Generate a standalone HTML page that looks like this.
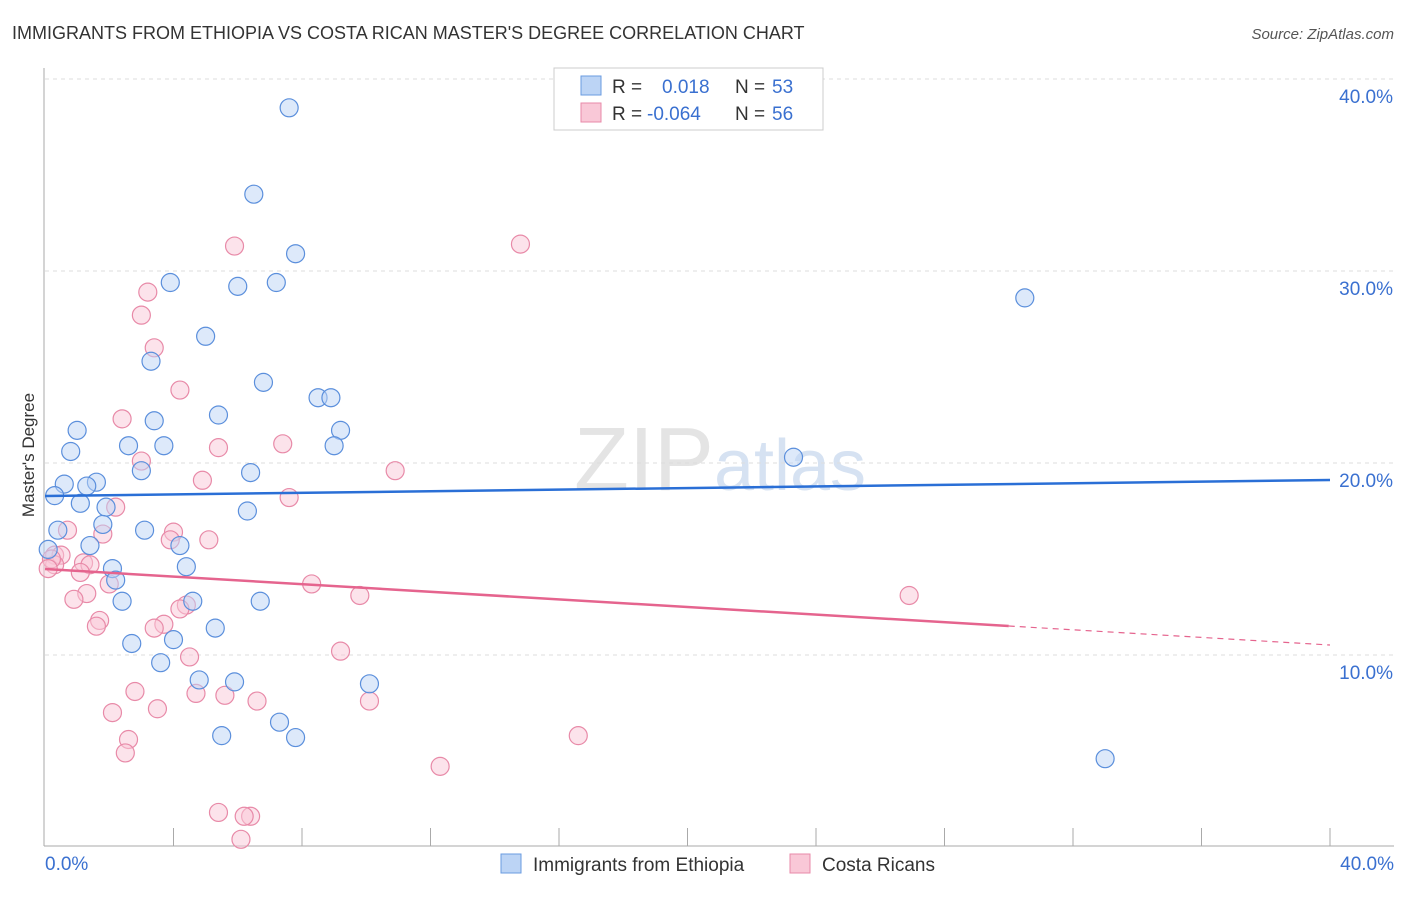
<!DOCTYPE html>
<html><head><meta charset="utf-8"><style>
body{margin:0;background:#fff;font-family:"Liberation Sans",sans-serif}
svg text{font-family:"Liberation Sans",sans-serif}
</style></head><body>
<svg id="chart" width="1406" height="892" xmlns="http://www.w3.org/2000/svg">
<text x="12" y="39" font-size="18" fill="#333">IMMIGRANTS FROM ETHIOPIA VS COSTA RICAN MASTER'S DEGREE CORRELATION CHART</text>
<text x="1394" y="39" font-size="15" fill="#555" text-anchor="end" font-style="italic">Source: ZipAtlas.com</text>
<text x="720" y="490" font-size="90" fill="#e4e4e4" text-anchor="middle" font-family="Liberation Serif">ZIP<tspan fill="#d6e2f2" font-family="Liberation Sans" font-size="72">atlas</tspan></text>
<g id="grid"></g><g id="axes"></g><g id="pts"></g><g id="lines"></g>
<text transform="translate(34,455) rotate(-90)" font-size="17" fill="#333" text-anchor="middle">Master's Degree</text>
<g>
<rect x="554" y="68" width="269" height="62" fill="#fff" stroke="#ccc"/>
<rect x="581" y="76" width="20" height="19" fill="#bcd4f5" stroke="#6a9be0"/>
<rect x="581" y="103" width="20" height="19" fill="#f9c8d7" stroke="#e88aa8"/>
<text x="612" y="93" font-size="19" fill="#333">R = </text><text x="662" y="93" font-size="19" fill="#3a70d0">0.018</text>
<text x="735" y="93" font-size="19" fill="#333">N = </text><text x="772" y="93" font-size="19" fill="#3a70d0">53</text>
<text x="612" y="120" font-size="19" fill="#333">R = </text><text x="647" y="120" font-size="19" fill="#3a70d0">-0.064</text>
<text x="735" y="120" font-size="19" fill="#333">N = </text><text x="772" y="120" font-size="19" fill="#3a70d0">56</text>
</g>
<g>
<rect x="501" y="854" width="20" height="19" fill="#bcd4f5" stroke="#6a9be0"/>
<text x="533" y="871" font-size="19" fill="#333">Immigrants from Ethiopia</text>
<rect x="790" y="854" width="20" height="19" fill="#f9c8d7" stroke="#e88aa8"/>
<text x="822" y="871" font-size="19" fill="#333">Costa Ricans</text>
</g>
</svg>
<script>
const yTicks=[10,20,30,40];
const yTickLabels=["10.0%","20.0%","30.0%","40.0%"];
const xTickLabels=["0.0%","40.0%"];
const blueX=[7.6,6.5,7.8,3.9,6.0,7.2,5.0,3.3,6.8,8.5,8.9,5.4,3.4,9.2,1.0,2.6,3.7,9.0,0.8,3.0,6.4,1.6,0.6,1.3,0.3,1.1,6.3,1.9,1.8,0.4,3.1,1.4,4.2,0.1,4.4,2.1,2.2,2.4,4.6,6.7,5.3,2.7,4.0,3.6,4.8,5.9,10.1,7.3,5.5,7.8,23.3,30.5,33.0];
const blueY=[38.5,34.0,30.9,29.4,29.2,29.4,26.6,25.3,24.2,23.4,23.4,22.5,22.2,21.7,21.7,20.9,20.9,20.9,20.6,19.6,19.5,19.0,18.9,18.8,18.3,17.9,17.5,17.7,16.8,16.5,16.5,15.7,15.7,15.5,14.6,14.5,13.9,12.8,12.8,12.8,11.4,10.6,10.8,9.6,8.7,8.6,8.5,6.5,5.8,5.7,20.3,28.6,4.6];
const pinkX=[14.8,5.9,3.2,3.0,3.4,4.2,2.4,7.4,5.4,3.0,10.9,4.9,7.6,2.2,0.7,1.8,4.0,5.1,3.9,0.3,0.5,1.2,1.4,0.3,1.1,2.0,8.3,9.8,26.9,1.3,0.9,4.4,4.2,1.7,3.7,3.4,1.6,4.5,9.2,2.8,4.7,5.6,6.6,10.1,2.1,3.5,2.6,16.6,2.5,12.3,5.4,6.4,6.2,6.1,0.2,0.1];
const pinkY=[31.4,31.3,28.9,27.7,26.0,23.8,22.3,21.0,20.8,20.1,19.6,19.1,18.2,17.7,16.5,16.3,16.4,16.0,16.0,15.2,15.2,14.8,14.7,14.7,14.3,13.7,13.7,13.1,13.1,13.2,12.9,12.6,12.4,11.8,11.6,11.4,11.5,9.9,10.2,8.1,8.0,7.9,7.6,7.6,7.0,7.2,5.6,5.8,4.9,4.2,1.8,1.6,1.6,0.4,15.0,14.5];
const blueFit=[18.28,0.0208];
const pinkFit=[14.48,-0.099];
const X0=45,X1=1330,Y0=847,PPY=19.2;
const sx=v=>X0+(X1-X0)*v/40, sy=v=>Y0-PPY*v;
const NS="http://www.w3.org/2000/svg";
function mk(tag,attrs,parent){const e=document.createElementNS(NS,tag);for(const k in attrs)e.setAttribute(k,attrs[k]);document.getElementById(parent).appendChild(e);return e;}
yTicks.forEach((t,i)=>{
 const g=mk('line',{x1:45,x2:1394,y1:sy(t),y2:sy(t),stroke:'#ddd','stroke-dasharray':'4,4'},'grid');
 
 
 const tx=mk('text',{x:1393,y:sy(t)+24,'font-size':19,fill:'#3a70d0','text-anchor':'end'},'axes');
 tx.textContent=yTickLabels[i];
 
 
});
let a=mk('line',{x1:44,x2:44,y1:68,y2:846,stroke:'#aaa'},'axes');


a=mk('line',{x1:44,x2:1394,y1:846,y2:846,stroke:'#aaa'},'axes');


for(let i=1;i<=10;i++){const x=X0+i*128.5;const t=mk('line',{x1:x,x2:x,y1:828,y2:846,stroke:'#aaa'},'axes');
 
 }
let t0=mk('text',{x:45,y:870,'font-size':19,fill:'#3a70d0'},'axes');t0.textContent=xTickLabels[0];


t0=mk('text',{x:1394,y:870,'font-size':19,fill:'#3a70d0','text-anchor':'end'},'axes');t0.textContent=xTickLabels[1];


function pts(xs,ys,fill,stroke,name){xs.forEach((x,i)=>{const c=mk('circle',{cx:sx(x),cy:sy(ys[i]),r:9,fill:fill,'fill-opacity':0.5,stroke:stroke,'stroke-width':1.2},'pts');
 
 });}
pts(pinkX,pinkY,'#f9c8d7','#e88aa8','costa-rican-point');
pts(blueX,blueY,'#bcd4f5','#5b8fdc','ethiopia-point');
let l=mk('line',{x1:sx(0),y1:sy(blueFit[0]),x2:sx(40),y2:sy(blueFit[0]+blueFit[1]*40),stroke:'#2a6fd6','stroke-width':2.5},'lines');


l=mk('line',{x1:sx(0),y1:sy(pinkFit[0]),x2:sx(30),y2:sy(pinkFit[0]+pinkFit[1]*30),stroke:'#e5648e','stroke-width':2.5},'lines');


l=mk('line',{x1:sx(30),y1:sy(pinkFit[0]+pinkFit[1]*30),x2:sx(40),y2:sy(pinkFit[0]+pinkFit[1]*40),stroke:'#e5648e','stroke-width':1.2,'stroke-dasharray':'6,5'},'lines');


</script>
</body></html>
